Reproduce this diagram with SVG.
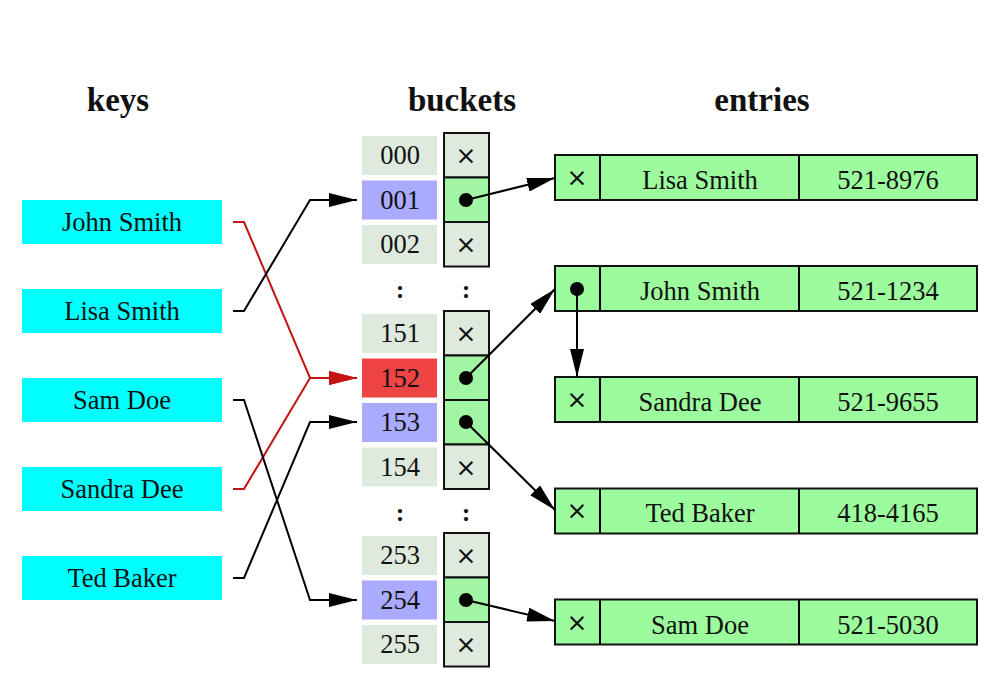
<svg xmlns="http://www.w3.org/2000/svg" width="1000" height="689" viewBox="0 0 1000 689">
<defs>
<style>
text{font-family:"Liberation Serif","Times New Roman",serif;font-size:26.5px;text-anchor:middle;fill:#111}
.title{font-weight:bold;font-size:33px}
.x{font-family:"DejaVu Sans","Liberation Sans",sans-serif;font-size:25px}
.col{font-weight:bold;font-size:26px}
.key{fill:#00ffff}
.cell{fill:#ddeadd}
.hl{fill:#aaaaff}
.red{fill:#ee4444}
.box{stroke:#111;stroke-width:2;fill:#ddeadd}
.ptr{stroke:#111;stroke-width:2;fill:#a2f5a2}
.ent{stroke:#111;stroke-width:2;fill:#9cfb9c}
.ln{fill:none;stroke:#000;stroke-width:2}
.rl{fill:none;stroke:#c41414;stroke-width:2}
.dot{fill:#000}
</style>
<marker id="ah" markerUnits="userSpaceOnUse" markerWidth="30" markerHeight="14" refX="28" refY="7" orient="auto"><path d="M0,0 L28,7 L0,14 z" fill="#000"/></marker>
<marker id="ahr" markerUnits="userSpaceOnUse" markerWidth="30" markerHeight="14" refX="28" refY="7" orient="auto"><path d="M0,0 L28,7 L0,14 z" fill="#c41414"/></marker>
</defs>
<rect width="1000" height="689" fill="#fff"/>
<g id="titles">
<text class="title" x="118" y="111">keys</text>
<text class="title" x="462" y="111">buckets</text>
<text class="title" x="762" y="111">entries</text>
</g>
<g id="keys">
<g id="key-john"><rect class="key" x="22" y="200" width="200" height="44"/><text x="122" y="231">John Smith</text></g>
<g id="key-lisa"><rect class="key" x="22" y="289" width="200" height="44"/><text x="122" y="320">Lisa Smith</text></g>
<g id="key-sam"><rect class="key" x="22" y="378" width="200" height="44"/><text x="122" y="409">Sam Doe</text></g>
<g id="key-sandra"><rect class="key" x="22" y="467" width="200" height="44"/><text x="122" y="498">Sandra Dee</text></g>
<g id="key-ted"><rect class="key" x="22" y="556" width="200" height="44"/><text x="122" y="587">Ted Baker</text></g>
</g>
<g id="buckets">
<g id="b000"><rect class="cell" x="362" y="136" width="75" height="39"/><text x="400" y="164">000</text><rect class="box" x="444" y="133" width="45" height="44.5"/><text class="x" x="466" y="164">×</text></g>
<g id="b001"><rect class="hl" x="362" y="180.5" width="75" height="39"/><text x="400" y="209">001</text><rect class="ptr" x="444" y="177.5" width="45" height="44.5"/><circle class="dot" cx="466" cy="200" r="7"/></g>
<g id="b002"><rect class="cell" x="362" y="225" width="75" height="39"/><text x="400" y="253">002</text><rect class="box" x="444" y="222" width="45" height="44.5"/><text class="x" x="466" y="253">×</text></g>
<g id="dots1"><text class="col" x="400" y="298">:</text><text class="col" x="466" y="298">:</text></g>
<g id="b151"><rect class="cell" x="362" y="314" width="75" height="39"/><text x="400" y="342">151</text><rect class="box" x="444" y="311" width="45" height="44.5"/><text class="x" x="466" y="342">×</text></g>
<g id="b152"><rect class="red" x="362" y="358.5" width="75" height="39"/><text x="400" y="387">152</text><rect class="ptr" x="444" y="355.5" width="45" height="44.5"/><circle class="dot" cx="466" cy="378" r="7"/></g>
<g id="b153"><rect class="hl" x="362" y="403" width="75" height="39"/><text x="400" y="431">153</text><rect class="ptr" x="444" y="400" width="45" height="44.5"/><circle class="dot" cx="466" cy="422" r="7"/></g>
<g id="b154"><rect class="cell" x="362" y="447.5" width="75" height="39"/><text x="400" y="476">154</text><rect class="box" x="444" y="444.5" width="45" height="44.5"/><text class="x" x="466" y="476">×</text></g>
<g id="dots2"><text class="col" x="400" y="521">:</text><text class="col" x="466" y="521">:</text></g>
<g id="b253"><rect class="cell" x="362" y="536" width="75" height="39"/><text x="400" y="564">253</text><rect class="box" x="444" y="533" width="45" height="44.5"/><text class="x" x="466" y="564">×</text></g>
<g id="b254"><rect class="hl" x="362" y="580.5" width="75" height="39"/><text x="400" y="609">254</text><rect class="ptr" x="444" y="577.5" width="45" height="44.5"/><circle class="dot" cx="466" cy="600" r="7"/></g>
<g id="b255"><rect class="cell" x="362" y="625" width="75" height="39"/><text x="400" y="653">255</text><rect class="box" x="444" y="622" width="45" height="44.5"/><text class="x" x="466" y="653">×</text></g>
</g>
<g id="entries">
<g id="e-lisa"><rect class="ent" x="555" y="155" width="422" height="45"/><line class="ln" x1="600" y1="155" x2="600" y2="200"/><line class="ln" x1="799" y1="155" x2="799" y2="200"/><text class="x" x="577" y="186">×</text><text x="700" y="189">Lisa Smith</text><text x="888" y="189">521-8976</text></g>
<g id="e-john"><rect class="ent" x="555" y="266" width="422" height="45"/><line class="ln" x1="600" y1="266" x2="600" y2="311"/><line class="ln" x1="799" y1="266" x2="799" y2="311"/><circle class="dot" cx="577" cy="289" r="7"/><text x="700" y="300">John Smith</text><text x="888" y="300">521-1234</text></g>
<g id="e-sandra"><rect class="ent" x="555" y="377" width="422" height="45"/><line class="ln" x1="600" y1="377" x2="600" y2="422"/><line class="ln" x1="799" y1="377" x2="799" y2="422"/><text class="x" x="577" y="408">×</text><text x="700" y="411">Sandra Dee</text><text x="888" y="411">521-9655</text></g>
<g id="e-ted"><rect class="ent" x="555" y="488.5" width="422" height="45"/><line class="ln" x1="600" y1="488.5" x2="600" y2="533.5"/><line class="ln" x1="799" y1="488.5" x2="799" y2="533.5"/><text class="x" x="577" y="519">×</text><text x="700" y="522">Ted Baker</text><text x="888" y="522">418-4165</text></g>
<g id="e-sam"><rect class="ent" x="555" y="599.5" width="422" height="45"/><line class="ln" x1="600" y1="599.5" x2="600" y2="644.5"/><line class="ln" x1="799" y1="599.5" x2="799" y2="644.5"/><text class="x" x="577" y="631">×</text><text x="700" y="634">Sam Doe</text><text x="888" y="634">521-5030</text></g>
</g>
<g id="connectors">
<path class="rl" d="M233,222 L244,222 L310,378 L357,378" marker-end="url(#ahr)"/>
<path class="rl" d="M233,489 L244,489 L310,378 L357,378" marker-end="url(#ahr)"/>
<path class="ln" d="M233,311 L244,311 L310,200 L357,200" marker-end="url(#ah)"/>
<path class="ln" d="M233,400 L244,400 L310,600 L357,600" marker-end="url(#ah)"/>
<path class="ln" d="M233,578 L244,578 L310,422 L357,422" marker-end="url(#ah)"/>
<path class="ln" d="M466,200 L555,178" marker-end="url(#ah)"/>
<path class="ln" d="M466,378 L555,289" marker-end="url(#ah)"/>
<path class="ln" d="M466,422 L555,510" marker-end="url(#ah)"/>
<path class="ln" d="M466,600 L555,621" marker-end="url(#ah)"/>
<path class="ln" d="M577,289 L577,377" marker-end="url(#ah)"/>
</g>
</svg>
